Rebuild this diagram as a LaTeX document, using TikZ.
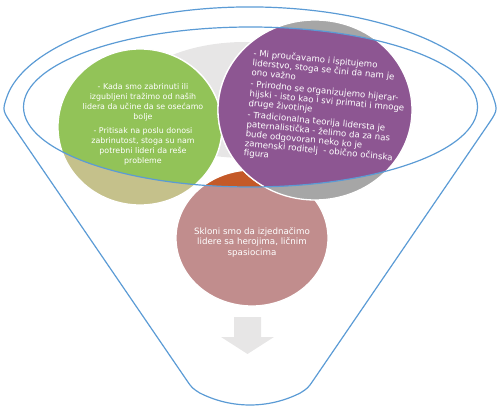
\documentclass[tikz,border=0pt]{standalone}
\usepackage{fontspec}
\setmainfont{DejaVu Sans}
\usepackage{tikz}
\usepackage{xcolor}
\definecolor{rimblue}{RGB}{91,155,213}
\definecolor{grin}{RGB}{146,195,88}
\definecolor{grout}{RGB}{197,193,139}
\definecolor{puin}{RGB}{141,86,146}
\definecolor{puout}{RGB}{166,166,166}
\definecolor{rdin}{RGB}{196,89,40}
\definecolor{rdout}{RGB}{193,141,141}
\definecolor{backgr}{RGB}{231,230,230}
\newcommand{\rimclip}{\clip (rimc) ellipse [x radius=227, y radius=80];}
\tikzset{
  rim/.style   ={draw=rimblue, line width=1.2pt},
  disc/.style  ={draw=white, line width=1.3pt},
  gtext/.style ={text=white, inner sep=0pt, align=center, font=\fontsize{7.9}{10}\selectfont},
  ptext/.style ={text=white, inner sep=0pt, align=left, rotate=-5.5, font=\fontsize{8.6}{9.6}\selectfont},
  rtext/.style ={text=white, inner sep=0pt, align=center, font=\fontsize{8.7}{10.5}\selectfont},
  downarr/.style={fill=backgr},
}

\begin{document}
\begin{tikzpicture}[x=1pt, y=-1pt]
  \useasboundingbox (0,0) rectangle (500,419);
  \coordinate (rimc) at (250.5,107);
  \coordinate (gc)   at (140,127);
  \coordinate (pc)   at (315,110);
  \coordinate (rc)   at (252,238);
  \coordinate (bc)   at (245,100);

  % discs: washed colour outside the rim, full colour inside
  \fill[backgr] (bc) ellipse [x radius=115, y radius=58];
  \filldraw[disc, fill=grout] (gc) ellipse [x radius=82, y radius=78];
  \begin{scope} \rimclip
    \filldraw[disc, fill=grin] (gc) ellipse [x radius=82, y radius=78];
  \end{scope}
  \filldraw[disc, fill=rdout] (rc) ellipse [x radius=76, y radius=68];
  \begin{scope} \rimclip
    \filldraw[disc, fill=rdin] (rc) ellipse [x radius=76, y radius=68];
  \end{scope}
  \filldraw[disc, fill=puout] (pc) ellipse [x radius=97, y radius=90];
  \begin{scope} \rimclip
    \filldraw[disc, fill=puin] (pc) ellipse [x radius=97, y radius=90];
  \end{scope}

  \node[gtext] (gtxt) at (143,124)
    {- Kada smo zabrinuti ili\\izgubljeni tražimo od naših\\lidera da učine da se osećamo\\bolje\\[4pt]
     - Pritisak na poslu donosi\\zabrinutost, stoga su nam\\potrebni lideri da reše\\probleme};
  \node[ptext] (ptxt) at (326,111)
    {- Mi proučavamo i ispitujemo\\liderstvo, stoga se čini da nam je\\ono važno\\[2pt]
     - Prirodno se organizujemo hijerar-\\hijski - isto kao i svi primati i mnoge\\druge životinje\\[2pt]
     - Tradicionalna teorija lidersta je\\paternalistička - želimo da za nas\\bude odgovoran neko ko je\\zamenski roditelj\ \ - obično očinska\\figura};
  \node[rtext] (rtxt) at (252,242)
    {Skloni smo da izjednačimo\\lidere sa herojima, ličnim\\spasiocima};

  % arrow down to the spout
  \fill[downarr] (234,317) -- (261,317) -- (261,337) -- (274,337) -- (247.5,354)
    -- (221,337) -- (234,337) -- cycle;

  % funnel outline and rim
  \draw[rim] (rimc) ellipse [x radius=227, y radius=80];
  \draw[rim] (186.4,379.8) -- (13.4,126.7) .. controls (2.4,110.6) .. (6.4,98.2)
    arc [start angle=188, end angle=352, x radius=246, y radius=106]
    .. controls (497.6,110.6) .. (486.6,126.7) -- (313.6,379.8)
    .. controls (308,388) .. (300.4,392.9)
    arc [start angle=63, end angle=117, radius=111]
    .. controls (192,388) .. (186.4,379.8) -- cycle;
\end{tikzpicture}
\end{document}
